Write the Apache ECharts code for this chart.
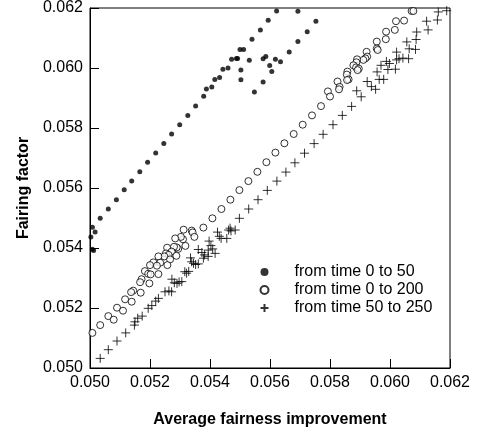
<!DOCTYPE html>
<html>
<head>
<meta charset="utf-8">
<script src="https://cdn.jsdelivr.net/npm/echarts@6/dist/echarts.min.js"></script>
<style>
  html, body { margin: 0; padding: 0; background: #fff; }
  #chart { width: 477px; height: 432px; }
</style>
</head>
<body>
<div id="chart"></div>
<script>
// 数据：每个点为 [平均公平性提升, 整流因子]
var legendNames = ['from time 0 to 50', 'from time 0 to 200', 'from time 50 to 250'];
var tickFormat = 3;

var from0to50 = [
  [0.05622, 0.06190], [0.05594, 0.06159], [0.05568, 0.06127], [0.05540, 0.06096],
  [0.05500, 0.06062], [0.05512, 0.06062], [0.05472, 0.06029], [0.05488, 0.06032],
  [0.05492, 0.06032], [0.05531, 0.06026], [0.05443, 0.05996], [0.05460, 0.06000],
  [0.05503, 0.05993], [0.05416, 0.05962], [0.05432, 0.05968], [0.05503, 0.05961],
  [0.05388, 0.05930], [0.05406, 0.05937], [0.05379, 0.05906], [0.05352, 0.05873],
  [0.05326, 0.05842], [0.05299, 0.05811], [0.05272, 0.05780], [0.05246, 0.05748],
  [0.05219, 0.05717], [0.05192, 0.05686], [0.05166, 0.05654], [0.05139, 0.05623],
  [0.05114, 0.05594], [0.05088, 0.05561], [0.05061, 0.05530], [0.05034, 0.05499],
  [0.05008, 0.05469], [0.05017, 0.05453], [0.05003, 0.05437], [0.05008, 0.05396],
  [0.05012, 0.05392],
  [0.05548, 0.05920], [0.05577, 0.05953], [0.05577, 0.06031], [0.05586, 0.06038],
  [0.05599, 0.06008], [0.05606, 0.05988], [0.05618, 0.06029], [0.05635, 0.06021],
  [0.05664, 0.06053], [0.05693, 0.06088], [0.05724, 0.06121], [0.05753, 0.06156],
  [0.05693, 0.06189]
];

var from0to200 = [
  [0.06072, 0.06190], [0.06078, 0.06190], [0.06047, 0.06158], [0.06020, 0.06156],
  [0.06016, 0.06127], [0.05987, 0.06121], [0.05986, 0.06096], [0.05956, 0.06088],
  [0.05956, 0.06065], [0.05959, 0.06060], [0.05922, 0.06054], [0.05924, 0.06038],
  [0.05918, 0.06032], [0.05911, 0.06027], [0.05890, 0.06029], [0.05888, 0.06019],
  [0.05878, 0.06009], [0.05887, 0.06002], [0.05896, 0.05998], [0.05892, 0.05993],
  [0.05858, 0.05988], [0.05856, 0.05978], [0.05862, 0.05962], [0.05857, 0.05960],
  [0.05825, 0.05955], [0.05832, 0.05937], [0.05830, 0.05929], [0.05793, 0.05922],
  [0.05800, 0.05905], [0.05770, 0.05873], [0.05740, 0.05842], [0.05709, 0.05811],
  [0.05679, 0.05780], [0.05648, 0.05749], [0.05618, 0.05718], [0.05588, 0.05686],
  [0.05558, 0.05654], [0.05528, 0.05623], [0.05498, 0.05593], [0.05468, 0.05561],
  [0.05438, 0.05530], [0.05408, 0.05499], [0.05378, 0.05468],
  [0.05312, 0.05461], [0.05339, 0.05458], [0.05342, 0.05452], [0.05348, 0.05437],
  [0.05310, 0.05429], [0.05303, 0.05437], [0.05284, 0.05432], [0.05318, 0.05407],
  [0.05294, 0.05397], [0.05289, 0.05402], [0.05280, 0.05404], [0.05257, 0.05401],
  [0.05272, 0.05388], [0.05253, 0.05382], [0.05262, 0.05377], [0.05248, 0.05372],
  [0.05288, 0.05374], [0.05228, 0.05372], [0.05267, 0.05362], [0.05234, 0.05351],
  [0.05211, 0.05352], [0.05200, 0.05343], [0.05258, 0.05343], [0.05223, 0.05341],
  [0.05183, 0.05323], [0.05194, 0.05314], [0.05202, 0.05312], [0.05228, 0.05313],
  [0.05172, 0.05296], [0.05167, 0.05286], [0.05198, 0.05282], [0.05144, 0.05258],
  [0.05137, 0.05253], [0.05169, 0.05251], [0.05117, 0.05229], [0.05139, 0.05221],
  [0.05090, 0.05201], [0.05110, 0.05191], [0.05061, 0.05173], [0.05079, 0.05161],
  [0.05034, 0.05143], [0.05008, 0.05117]
];

var from50to250 = [
  [0.06189, 0.06191], [0.06161, 0.06187], [0.06158, 0.06160], [0.06122, 0.06156],
  [0.06127, 0.06127], [0.06089, 0.06120], [0.06087, 0.06095], [0.06056, 0.06087],
  [0.06085, 0.06062], [0.06064, 0.06064], [0.06022, 0.06053], [0.05988, 0.06022],
  [0.06022, 0.06027], [0.06030, 0.06031], [0.06043, 0.06033], [0.06062, 0.06031],
  [0.05970, 0.06009], [0.05998, 0.06015], [0.05993, 0.05995], [0.06018, 0.05996],
  [0.05957, 0.05987], [0.05964, 0.05962], [0.05979, 0.05962], [0.05924, 0.05955],
  [0.05938, 0.05938], [0.05952, 0.05929], [0.05889, 0.05924], [0.05904, 0.05904],
  [0.05872, 0.05872], [0.05841, 0.05842], [0.05810, 0.05811], [0.05777, 0.05779],
  [0.05747, 0.05748], [0.05715, 0.05716], [0.05683, 0.05684], [0.05653, 0.05653],
  [0.05623, 0.05623], [0.05591, 0.05592], [0.05560, 0.05561], [0.05529, 0.05530],
  [0.05498, 0.05499],
  [0.05467, 0.05466], [0.05484, 0.05460], [0.05470, 0.05457], [0.05462, 0.05460],
  [0.05425, 0.05453], [0.05431, 0.05439], [0.05437, 0.05432], [0.05456, 0.05432],
  [0.05397, 0.05423], [0.05403, 0.05408], [0.05409, 0.05397], [0.05417, 0.05382],
  [0.05394, 0.05393], [0.05361, 0.05395], [0.05373, 0.05385], [0.05382, 0.05377],
  [0.05394, 0.05372], [0.05378, 0.05366], [0.05335, 0.05367], [0.05339, 0.05354],
  [0.05345, 0.05349], [0.05352, 0.05345], [0.05361, 0.05347], [0.05316, 0.05321],
  [0.05322, 0.05316], [0.05329, 0.05322], [0.05306, 0.05288], [0.05273, 0.05296],
  [0.05281, 0.05284], [0.05290, 0.05282], [0.05297, 0.05287], [0.05250, 0.05254],
  [0.05263, 0.05257], [0.05272, 0.05254], [0.05228, 0.05232], [0.05219, 0.05223],
  [0.05206, 0.05208], [0.05194, 0.05199], [0.05174, 0.05173], [0.05159, 0.05166],
  [0.05150, 0.05154], [0.05148, 0.05143], [0.05119, 0.05117], [0.05090, 0.05090],
  [0.05061, 0.05061], [0.05034, 0.05032]
];

var chart = echarts.init(document.getElementById('chart'));
var font = '"Liberation Sans", Arial, Helvetica, sans-serif';
var plusPath = 'path://M0,5L10,5M5,0L5,10';

function valueAxis(name, gap, rotate) {
  return {
    type: 'value',
    min: 0.050,
    max: 0.062,
    interval: 0.002,
    name: name,
    nameLocation: 'middle',
    nameGap: gap,
    nameRotate: rotate,
    nameTextStyle: { color: '#000', fontFamily: font, fontSize: 16, fontWeight: 'bold' },
    axisLine: { onZero: false, lineStyle: { color: '#000', width: 1 } },
    axisTick: { inside: true, length: 9, lineStyle: { color: '#000' } },
    axisLabel: {
      color: '#000', fontFamily: font, fontSize: 16, margin: 7,
      formatter: function (v) { return v.toFixed(tickFormat); }
    },
    splitLine: { show: false }
  };
}

var option = {
  backgroundColor: '#fff',
  animation: false,
  grid: {
    left: 90, right: 27, top: 8, bottom: 64,
    outerBoundsMode: 'none', containLabel: false,
    show: true, borderColor: '#000', borderWidth: 1
  },
  xAxis: valueAxis('Average fairness improvement', 44, 0),
  yAxis: valueAxis('Fairing factor', 58, 90),
  legend: {
    orient: 'vertical',
    left: 253,
    top: 259,
    itemWidth: 50,
    itemHeight: 8,
    itemGap: 2,
    textStyle: { color: '#000', fontFamily: font, fontSize: 16 },
    data: legendNames
  },
  series: [
    {
      name: legendNames[0],
      type: 'scatter',
      symbol: 'circle',
      symbolSize: 5,
      itemStyle: { color: '#000' },
      data: from0to50
    },
    {
      name: legendNames[1],
      type: 'scatter',
      symbol: 'circle',
      symbolSize: 7,
      itemStyle: { color: '#fff', borderColor: '#000', borderWidth: 1 },
      data: from0to200
    },
    {
      name: legendNames[2],
      type: 'scatter',
      symbol: plusPath,
      symbolSize: 9,
      itemStyle: { color: 'none', borderColor: '#000', borderWidth: 1 },
      data: from50to250
    }
  ]
};

chart.setOption(option);
</script>
</body>
</html>
